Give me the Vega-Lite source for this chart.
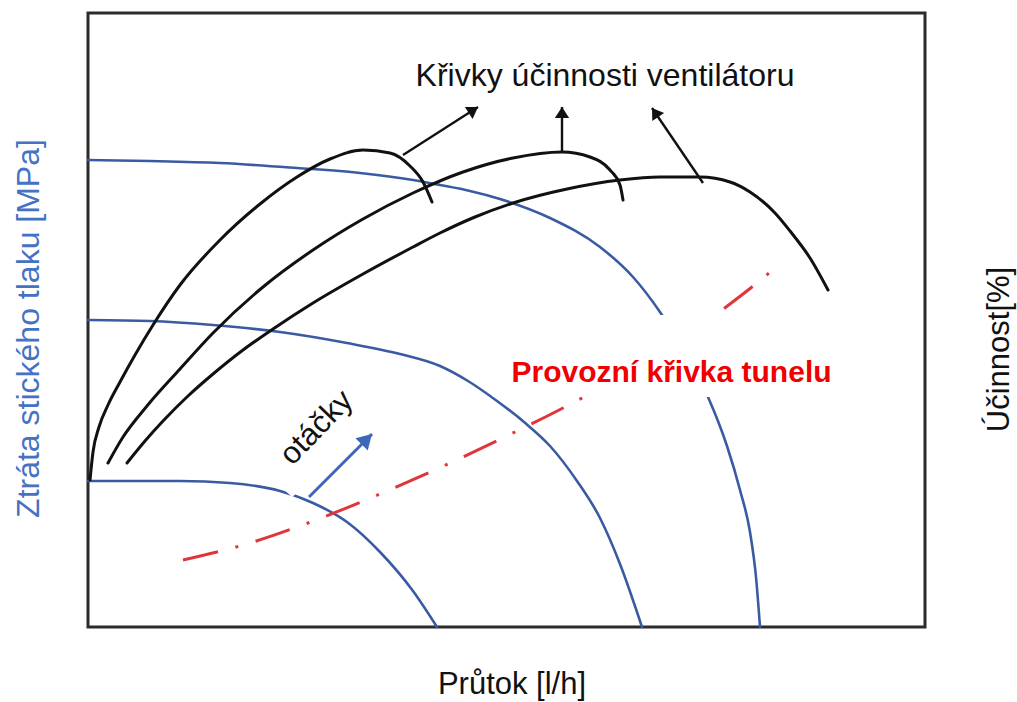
{
  "$schema": "https://vega.github.io/schema/vega-lite/v6.json",
  "width": 837,
  "height": 614,
  "autosize": {"type": "none"},
  "padding": {"left": 88, "top": 13, "right": 92, "bottom": 75},
  "background": "white",
  "config": {
    "view": {"stroke": "#2b2b2b", "strokeWidth": 3},
    "font": "Liberation Sans",
    "axis": {"domain": false, "ticks": false, "labels": false, "grid": false, "titleFont": "Liberation Sans", "titleFontWeight": "normal"}
  },
  "datasets": {
    "curves": [
      {"curve": "n1", "kind": "fan", "i": 0, "q": 0, "p": 146},
      {"curve": "n1", "kind": "fan", "i": 1, "q": 92, "p": 146},
      {"curve": "n1", "kind": "fan", "i": 2, "q": 142, "p": 144},
      {"curve": "n1", "kind": "fan", "i": 3, "q": 192, "p": 136},
      {"curve": "n1", "kind": "fan", "i": 4, "q": 225, "p": 124},
      {"curve": "n1", "kind": "fan", "i": 5, "q": 259, "p": 105},
      {"curve": "n1", "kind": "fan", "i": 6, "q": 292, "p": 75},
      {"curve": "n1", "kind": "fan", "i": 7, "q": 325, "p": 36},
      {"curve": "n1", "kind": "fan", "i": 8, "q": 349, "p": 0},

      {"curve": "n2", "kind": "fan", "i": 0, "q": 0, "p": 307},
      {"curve": "n2", "kind": "fan", "i": 1, "q": 62, "p": 306},
      {"curve": "n2", "kind": "fan", "i": 2, "q": 125, "p": 302},
      {"curve": "n2", "kind": "fan", "i": 3, "q": 192, "p": 295},
      {"curve": "n2", "kind": "fan", "i": 4, "q": 259, "p": 284},
      {"curve": "n2", "kind": "fan", "i": 5, "q": 312, "p": 273},
      {"curve": "n2", "kind": "fan", "i": 6, "q": 352, "p": 261},
      {"curve": "n2", "kind": "fan", "i": 7, "q": 380, "p": 246},
      {"curve": "n2", "kind": "fan", "i": 8, "q": 409, "p": 226},
      {"curve": "n2", "kind": "fan", "i": 9, "q": 436, "p": 205},
      {"curve": "n2", "kind": "fan", "i": 10, "q": 462, "p": 181},
      {"curve": "n2", "kind": "fan", "i": 11, "q": 489, "p": 146},
      {"curve": "n2", "kind": "fan", "i": 12, "q": 512, "p": 109},
      {"curve": "n2", "kind": "fan", "i": 13, "q": 532, "p": 63},
      {"curve": "n2", "kind": "fan", "i": 14, "q": 554, "p": 0},

      {"curve": "n3", "kind": "fan", "i": 0, "q": 0, "p": 467},
      {"curve": "n3", "kind": "fan", "i": 1, "q": 62, "p": 466},
      {"curve": "n3", "kind": "fan", "i": 2, "q": 132, "p": 464},
      {"curve": "n3", "kind": "fan", "i": 3, "q": 209, "p": 459},
      {"curve": "n3", "kind": "fan", "i": 4, "q": 272, "p": 454},
      {"curve": "n3", "kind": "fan", "i": 5, "q": 325, "p": 447},
      {"curve": "n3", "kind": "fan", "i": 6, "q": 352, "p": 442},
      {"curve": "n3", "kind": "fan", "i": 7, "q": 382, "p": 436},
      {"curve": "n3", "kind": "fan", "i": 8, "q": 412, "p": 428},
      {"curve": "n3", "kind": "fan", "i": 9, "q": 462, "p": 409},
      {"curve": "n3", "kind": "fan", "i": 10, "q": 512, "p": 380},
      {"curve": "n3", "kind": "fan", "i": 11, "q": 545, "p": 350},
      {"curve": "n3", "kind": "fan", "i": 12, "q": 572, "p": 315},
      {"curve": "n3", "kind": "fan", "i": 13, "q": 598, "p": 273},
      {"curve": "n3", "kind": "fan", "i": 14, "q": 620, "p": 230},
      {"curve": "n3", "kind": "fan", "i": 15, "q": 639, "p": 181},
      {"curve": "n3", "kind": "fan", "i": 16, "q": 652, "p": 137},
      {"curve": "n3", "kind": "fan", "i": 17, "q": 662, "p": 95},
      {"curve": "n3", "kind": "fan", "i": 18, "q": 668, "p": 50},
      {"curve": "n3", "kind": "fan", "i": 19, "q": 672, "p": 0},

      {"curve": "tunnel", "kind": "tunnel", "i": 0, "q": 95, "p": 67},
      {"curve": "tunnel", "kind": "tunnel", "i": 1, "q": 162, "p": 84},
      {"curve": "tunnel", "kind": "tunnel", "i": 2, "q": 220, "p": 104},
      {"curve": "tunnel", "kind": "tunnel", "i": 3, "q": 292, "p": 133},
      {"curve": "tunnel", "kind": "tunnel", "i": 4, "q": 360, "p": 163},
      {"curve": "tunnel", "kind": "tunnel", "i": 5, "q": 427, "p": 195},
      {"curve": "tunnel", "kind": "tunnel", "i": 6, "q": 475, "p": 219},
      {"curve": "tunnel", "kind": "tunnel", "i": 7, "q": 532, "p": 250},
      {"curve": "tunnel", "kind": "tunnel", "i": 8, "q": 592, "p": 287},
      {"curve": "tunnel", "kind": "tunnel", "i": 9, "q": 642, "p": 323},
      {"curve": "tunnel", "kind": "tunnel", "i": 10, "q": 669, "p": 344},
      {"curve": "tunnel", "kind": "tunnel", "i": 11, "q": 687, "p": 359},

      {"curve": "e1", "kind": "eff", "i": 0, "q": 2, "p": 147},
      {"curve": "e1", "kind": "eff", "i": 1, "q": 5, "p": 175},
      {"curve": "e1", "kind": "eff", "i": 2, "q": 11, "p": 200},
      {"curve": "e1", "kind": "eff", "i": 3, "q": 20, "p": 222},
      {"curve": "e1", "kind": "eff", "i": 4, "q": 32, "p": 245},
      {"curve": "e1", "kind": "eff", "i": 5, "q": 47, "p": 272},
      {"curve": "e1", "kind": "eff", "i": 6, "q": 65, "p": 302},
      {"curve": "e1", "kind": "eff", "i": 7, "q": 92, "p": 342},
      {"curve": "e1", "kind": "eff", "i": 8, "q": 132, "p": 387},
      {"curve": "e1", "kind": "eff", "i": 9, "q": 172, "p": 423},
      {"curve": "e1", "kind": "eff", "i": 10, "q": 209, "p": 450},
      {"curve": "e1", "kind": "eff", "i": 11, "q": 242, "p": 468},
      {"curve": "e1", "kind": "eff", "i": 12, "q": 275, "p": 477},
      {"curve": "e1", "kind": "eff", "i": 13, "q": 302, "p": 474},
      {"curve": "e1", "kind": "eff", "i": 14, "q": 322, "p": 461},
      {"curve": "e1", "kind": "eff", "i": 15, "q": 335, "p": 445},
      {"curve": "e1", "kind": "eff", "i": 16, "q": 344, "p": 425},

      {"curve": "e2", "kind": "eff", "i": 0, "q": 20, "p": 164},
      {"curve": "e2", "kind": "eff", "i": 1, "q": 35, "p": 190},
      {"curve": "e2", "kind": "eff", "i": 2, "q": 59, "p": 221},
      {"curve": "e2", "kind": "eff", "i": 3, "q": 92, "p": 258},
      {"curve": "e2", "kind": "eff", "i": 4, "q": 125, "p": 294},
      {"curve": "e2", "kind": "eff", "i": 5, "q": 175, "p": 340},
      {"curve": "e2", "kind": "eff", "i": 6, "q": 225, "p": 377},
      {"curve": "e2", "kind": "eff", "i": 7, "q": 275, "p": 408},
      {"curve": "e2", "kind": "eff", "i": 8, "q": 325, "p": 434},
      {"curve": "e2", "kind": "eff", "i": 9, "q": 375, "p": 455},
      {"curve": "e2", "kind": "eff", "i": 10, "q": 425, "p": 469},
      {"curve": "e2", "kind": "eff", "i": 11, "q": 474, "p": 475},
      {"curve": "e2", "kind": "eff", "i": 12, "q": 502, "p": 470},
      {"curve": "e2", "kind": "eff", "i": 13, "q": 522, "p": 457},
      {"curve": "e2", "kind": "eff", "i": 14, "q": 532, "p": 442},
      {"curve": "e2", "kind": "eff", "i": 15, "q": 535, "p": 427},

      {"curve": "e3", "kind": "eff", "i": 0, "q": 39, "p": 164},
      {"curve": "e3", "kind": "eff", "i": 1, "q": 57, "p": 186},
      {"curve": "e3", "kind": "eff", "i": 2, "q": 75, "p": 206},
      {"curve": "e3", "kind": "eff", "i": 3, "q": 100, "p": 231},
      {"curve": "e3", "kind": "eff", "i": 4, "q": 125, "p": 253},
      {"curve": "e3", "kind": "eff", "i": 5, "q": 155, "p": 277},
      {"curve": "e3", "kind": "eff", "i": 6, "q": 185, "p": 298},
      {"curve": "e3", "kind": "eff", "i": 7, "q": 225, "p": 324},
      {"curve": "e3", "kind": "eff", "i": 8, "q": 275, "p": 353},
      {"curve": "e3", "kind": "eff", "i": 9, "q": 325, "p": 380},
      {"curve": "e3", "kind": "eff", "i": 10, "q": 352, "p": 394},
      {"curve": "e3", "kind": "eff", "i": 11, "q": 387, "p": 410},
      {"curve": "e3", "kind": "eff", "i": 12, "q": 425, "p": 424},
      {"curve": "e3", "kind": "eff", "i": 13, "q": 479, "p": 438},
      {"curve": "e3", "kind": "eff", "i": 14, "q": 532, "p": 447},
      {"curve": "e3", "kind": "eff", "i": 15, "q": 572, "p": 450},
      {"curve": "e3", "kind": "eff", "i": 16, "q": 612, "p": 450},
      {"curve": "e3", "kind": "eff", "i": 17, "q": 642, "p": 445},
      {"curve": "e3", "kind": "eff", "i": 18, "q": 662, "p": 435},
      {"curve": "e3", "kind": "eff", "i": 19, "q": 687, "p": 414},
      {"curve": "e3", "kind": "eff", "i": 20, "q": 702, "p": 396},
      {"curve": "e3", "kind": "eff", "i": 21, "q": 722, "p": 369},
      {"curve": "e3", "kind": "eff", "i": 22, "q": 740, "p": 337}
    ],
    "pointers": [
      {"kind": "eff", "q": 390, "p": 520, "q2": 315, "p2": 472},
      {"kind": "eff", "q": 474, "p": 520, "q2": 474, "p2": 475},
      {"kind": "eff", "q": 564, "p": 519, "q2": 615, "p2": 444},
      {"kind": "fan", "q": 284, "p": 193, "q2": 221, "p2": 130}
    ],
    "backdrops": [
      {"q": 405, "q2": 779, "p": 230, "p2": 312}
    ],
    "speedBackdrop": [
      {"i": 0, "q": 185, "p": 147},
      {"i": 1, "q": 265, "p": 237}
    ],
    "labels": [
      {"role": "heading", "text": "Křivky účinnosti ventilátoru", "q": 517, "p": 541},
      {"role": "tunnel", "text": "Provozní křivka tunelu", "q": 583.5, "p": 245},
      {"role": "speed", "text": "otáčky", "q": 229, "p": 199}
    ]
  },
  "encoding": {
    "x": {
      "field": "q",
      "type": "quantitative",
      "scale": {"domain": [0, 837], "nice": false, "zero": false},
      "axis": {
        "title": "Průtok [l/h]",
        "titleFontSize": 31,
        "titleColor": "#111111",
        "titleX": 423.5,
        "titleY": 66,
        "titleAlign": "center",
        "titleBaseline": "alphabetic"
      }
    }
  },
  "layer": [
    {
      "data": {"name": "curves"},
      "transform": [{"filter": "datum.kind === 'fan'"}],
      "mark": {"type": "line", "interpolate": "monotone", "color": "#3a5ba3", "strokeWidth": 2.6, "strokeCap": "round"},
      "encoding": {
        "y": {
          "field": "p",
          "type": "quantitative",
          "scale": {"domain": [0, 614], "nice": false, "zero": false},
          "axis": {
            "orient": "left",
            "title": "Ztráta stického tlaku [MPa]",
            "titleFontSize": 32,
            "titleColor": "#4472c4",
            "titleAngle": -90,
            "titleX": -60,
            "titleY": 315,
            "titleAlign": "center",
            "titleBaseline": "middle"
          }
        },
        "detail": {"field": "curve"},
        "order": {"field": "i", "type": "quantitative"}
      }
    },
    {
      "data": {"name": "curves"},
      "transform": [{"filter": "datum.kind === 'tunnel'"}],
      "mark": {"type": "line", "interpolate": "monotone", "color": "#e0353b", "strokeWidth": 3, "strokeDash": [36, 18, 3, 18]},
      "encoding": {
        "y": {
          "field": "p",
          "type": "quantitative",
          "scale": {"domain": [0, 614], "nice": false, "zero": false},
          "axis": {
            "orient": "right",
            "title": "Účinnost[%]",
            "titleFontSize": 31,
            "titleColor": "#111111",
            "titleAngle": -90,
            "titleX": 74,
            "titleY": 336,
            "titleAlign": "center",
            "titleBaseline": "middle"
          }
        },
        "order": {"field": "i", "type": "quantitative"}
      }
    },
    {
      "data": {"name": "curves"},
      "transform": [{"filter": "datum.kind === 'eff'"}],
      "mark": {"type": "line", "interpolate": "monotone", "color": "#111111", "strokeWidth": 3, "strokeCap": "round"},
      "encoding": {
        "y": {"field": "p", "type": "quantitative", "scale": {"domain": [0, 614], "nice": false, "zero": false}, "axis": null},
        "detail": {"field": "curve"},
        "order": {"field": "i", "type": "quantitative"}
      }
    },
    {
      "data": {"name": "backdrops"},
      "mark": {"type": "rect", "color": "white", "opacity": 1},
      "encoding": {
        "x2": {"field": "q2"},
        "y": {"field": "p", "type": "quantitative", "scale": {"domain": [0, 614], "nice": false, "zero": false}, "axis": null},
        "y2": {"field": "p2"}
      }
    },
    {
      "data": {"name": "speedBackdrop"},
      "mark": {"type": "line", "color": "white", "strokeWidth": 52, "strokeCap": "butt"},
      "encoding": {
        "y": {"field": "p", "type": "quantitative", "scale": {"domain": [0, 614], "nice": false, "zero": false}, "axis": null},
        "order": {"field": "i", "type": "quantitative"}
      }
    },
    {
      "data": {"name": "pointers"},
      "transform": [{"filter": "datum.kind === 'eff'"}],
      "mark": {"type": "rule", "color": "#111111", "strokeWidth": 2.4},
      "encoding": {
        "y": {"field": "p", "type": "quantitative", "scale": {"domain": [0, 614], "nice": false, "zero": false}, "axis": null},
        "x2": {"field": "q2"},
        "y2": {"field": "p2"}
      }
    },
    {
      "data": {"name": "pointers"},
      "transform": [
        {"filter": "datum.kind === 'eff'"},
        {"calculate": "atan2(datum.q - datum.q2, datum.p - datum.p2) * 180 / PI", "as": "heading"}
      ],
      "mark": {"type": "point", "shape": "M0,0L-0.65,1L0.65,1Z", "filled": true, "size": 484, "color": "#111111", "opacity": 1},
      "encoding": {
        "y": {"field": "p", "type": "quantitative", "scale": {"domain": [0, 614], "nice": false, "zero": false}, "axis": null},
        "angle": {"field": "heading", "type": "quantitative", "scale": null}
      }
    },
    {
      "data": {"name": "pointers"},
      "transform": [{"filter": "datum.kind === 'fan'"}],
      "mark": {"type": "rule", "color": "#3d67b8", "strokeWidth": 3},
      "encoding": {
        "y": {"field": "p", "type": "quantitative", "scale": {"domain": [0, 614], "nice": false, "zero": false}, "axis": null},
        "x2": {"field": "q2"},
        "y2": {"field": "p2"}
      }
    },
    {
      "data": {"name": "pointers"},
      "transform": [
        {"filter": "datum.kind === 'fan'"},
        {"calculate": "atan2(datum.q - datum.q2, datum.p - datum.p2) * 180 / PI", "as": "heading"}
      ],
      "mark": {"type": "point", "shape": "M0,0L-0.62,1.05L0.62,1.05Z", "filled": true, "size": 784, "color": "#3d67b8", "opacity": 1},
      "encoding": {
        "y": {"field": "p", "type": "quantitative", "scale": {"domain": [0, 614], "nice": false, "zero": false}, "axis": null},
        "angle": {"field": "heading", "type": "quantitative", "scale": null}
      }
    },
    {
      "data": {"name": "labels"},
      "transform": [{"filter": "datum.role === 'heading'"}],
      "mark": {"type": "text", "font": "Liberation Sans", "fontSize": 32, "color": "#111111", "align": "center", "baseline": "alphabetic"},
      "encoding": {
        "y": {"field": "p", "type": "quantitative", "scale": {"domain": [0, 614], "nice": false, "zero": false}, "axis": null},
        "text": {"field": "text"}
      }
    },
    {
      "data": {"name": "labels"},
      "transform": [{"filter": "datum.role === 'tunnel'"}],
      "mark": {"type": "text", "font": "Liberation Sans", "fontSize": 30, "fontWeight": "bold", "color": "#f00000", "align": "center", "baseline": "alphabetic"},
      "encoding": {
        "y": {"field": "p", "type": "quantitative", "scale": {"domain": [0, 614], "nice": false, "zero": false}, "axis": null},
        "text": {"field": "text"}
      }
    },
    {
      "data": {"name": "labels"},
      "transform": [{"filter": "datum.role === 'speed'"}],
      "mark": {"type": "text", "font": "Liberation Sans", "fontSize": 31, "color": "#111111", "align": "center", "baseline": "middle", "angle": -46},
      "encoding": {
        "y": {"field": "p", "type": "quantitative", "scale": {"domain": [0, 614], "nice": false, "zero": false}, "axis": null},
        "text": {"field": "text"}
      }
    }
  ],
  "resolve": {"axis": {"y": "independent"}}
}
